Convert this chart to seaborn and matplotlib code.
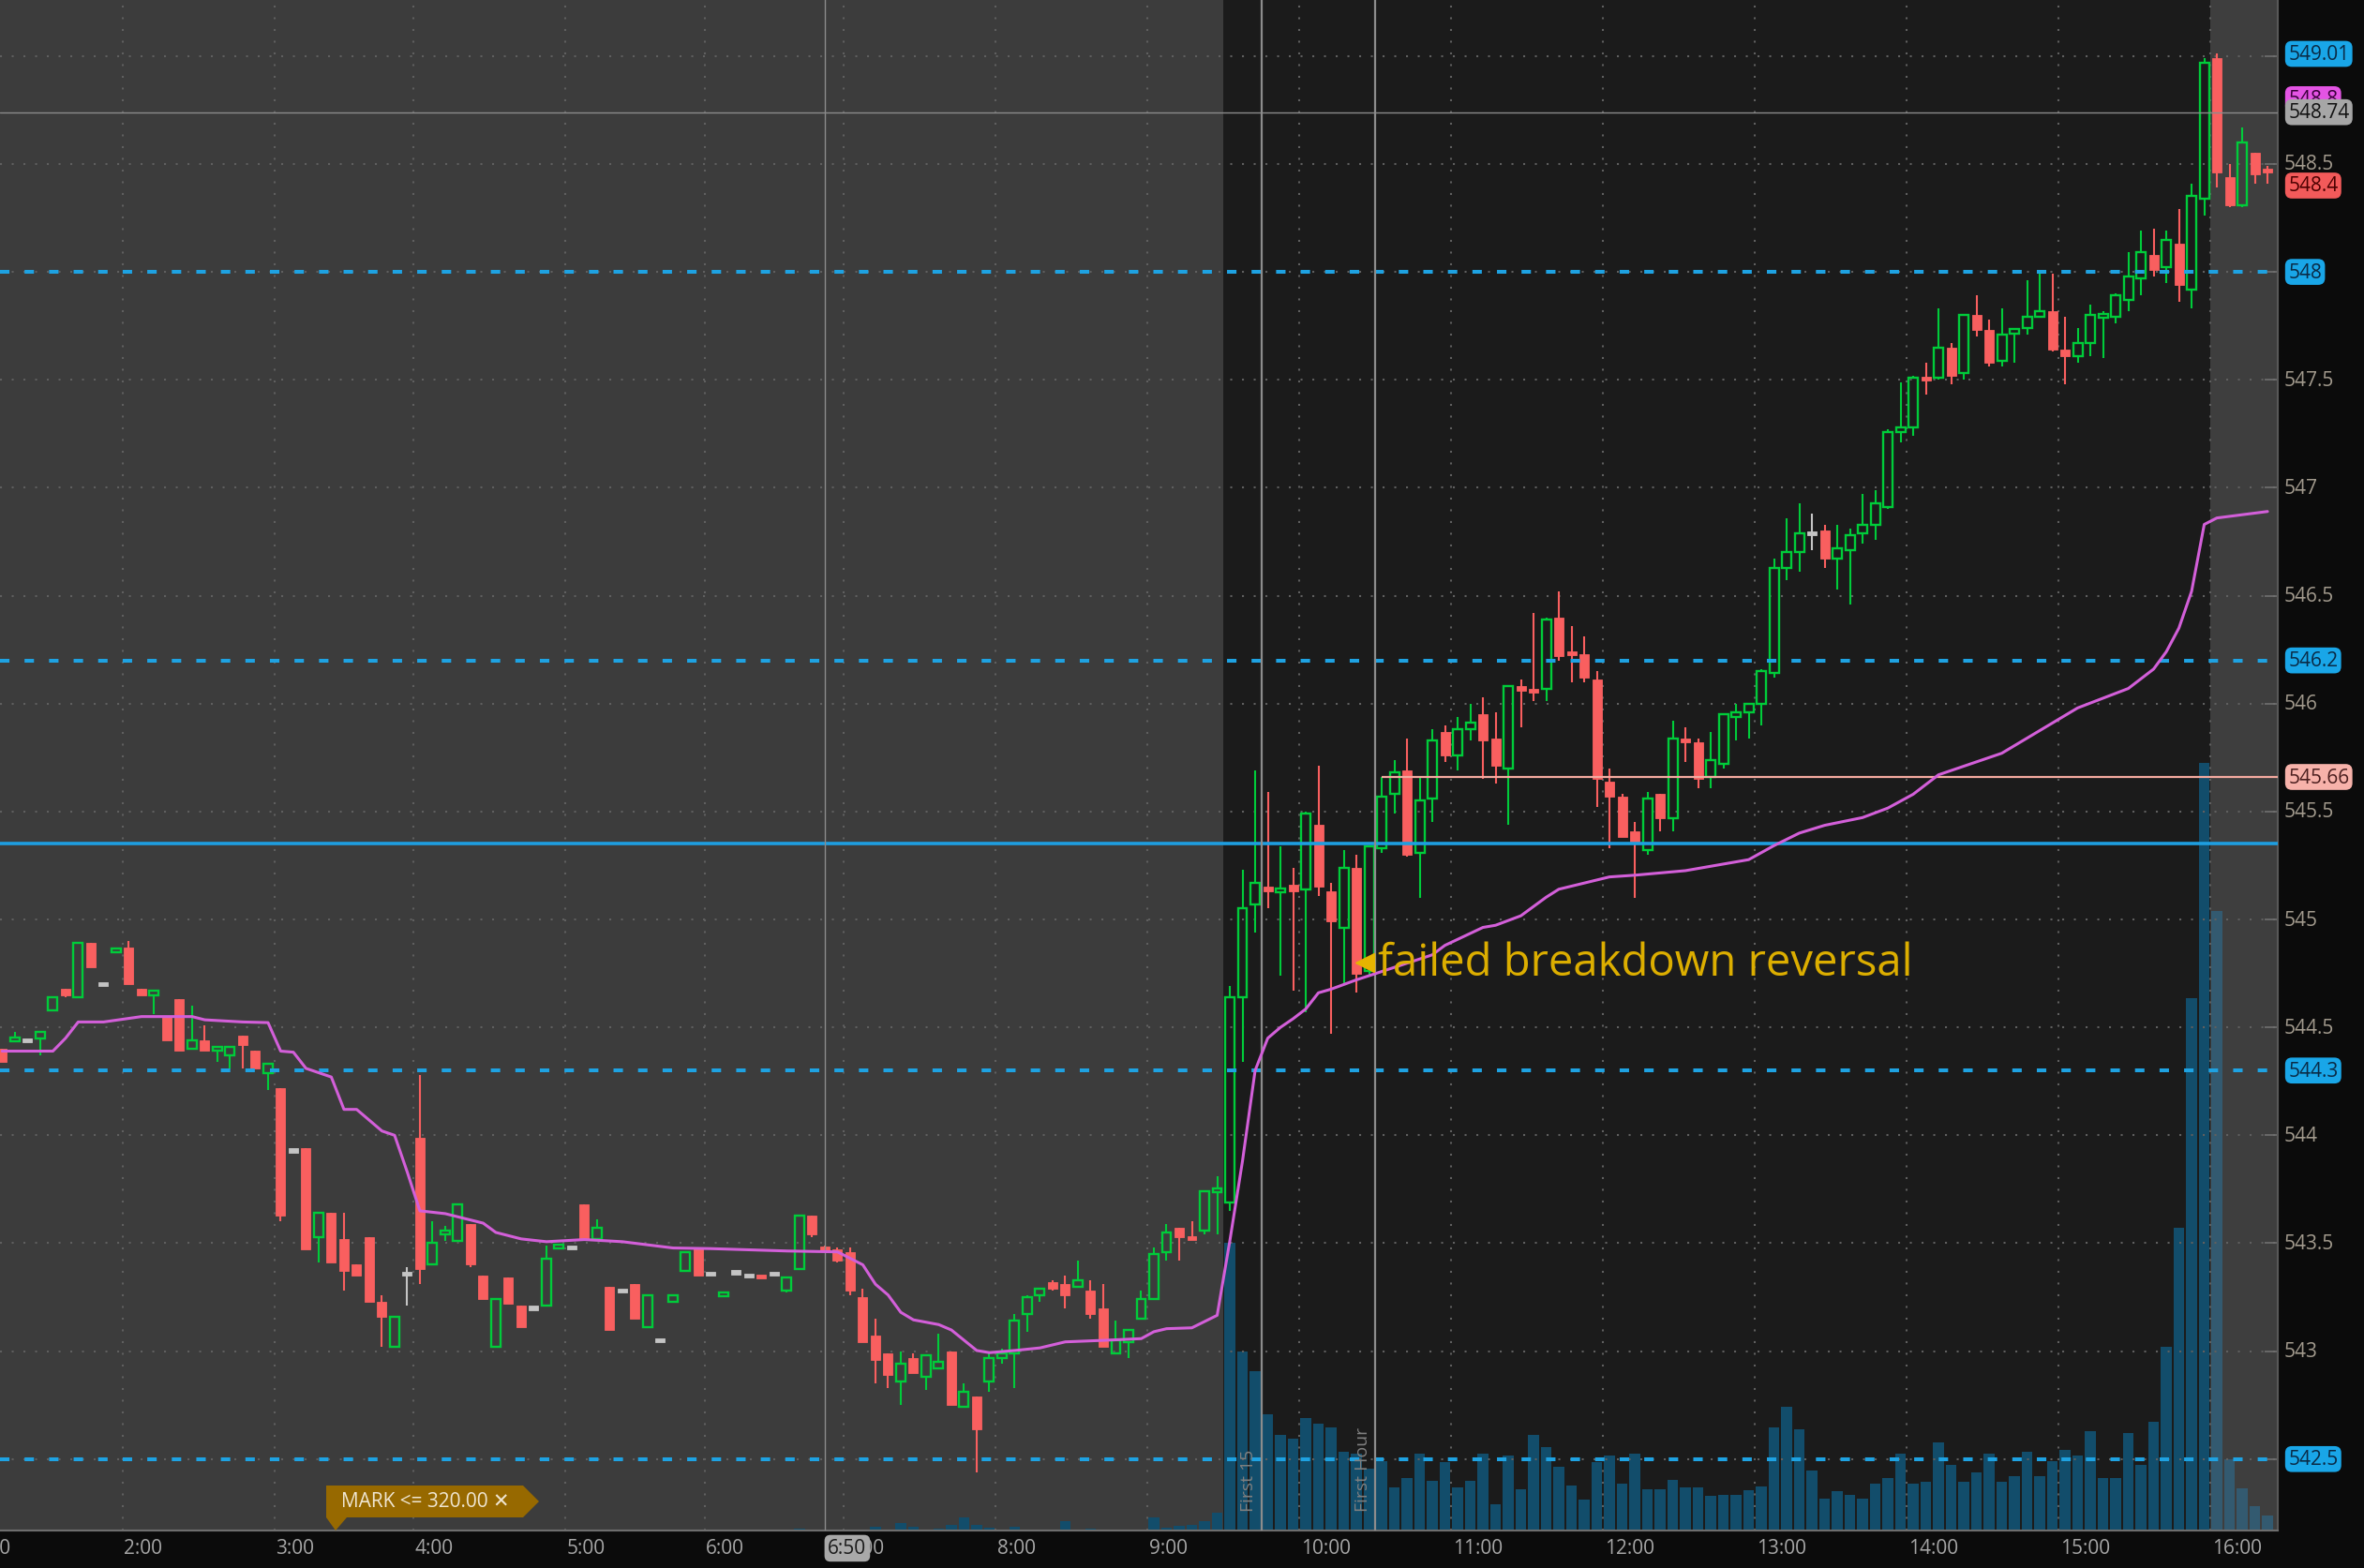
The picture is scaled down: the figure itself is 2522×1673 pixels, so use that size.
import numpy as np
import pandas as pd
import matplotlib
matplotlib.use("Agg")
import matplotlib.pyplot as plt
import matplotlib.transforms as mtrans
from matplotlib.patches import Rectangle, Polygon
import seaborn as sns

# ---------------- data: 5 minute bars ----------------
times = [
    "1:10", "1:15", "1:20", "1:25", "1:30", "1:35", "1:40", "1:45", "1:50", "1:55",
    "2:00", "2:05", "2:10", "2:15", "2:20", "2:25", "2:30", "2:35", "2:40", "2:45", "2:50", "2:55",
    "3:00", "3:05", "3:10", "3:15", "3:20", "3:25", "3:30", "3:35", "3:40", "3:45", "3:55",
    "4:00", "4:05", "4:10", "4:15", "4:20", "4:25", "4:30", "4:35", "4:40", "4:45", "4:50", "4:55",
    "5:00", "5:05", "5:10", "5:15", "5:20", "5:25", "5:30", "5:40", "5:45", "5:50", "5:55",
    "6:00", "6:05", "6:10", "6:15", "6:25", "6:30", "6:35", "6:40", "6:45", "6:50", "6:55",
    "7:00", "7:05", "7:10", "7:15", "7:20", "7:25", "7:30", "7:35", "7:40", "7:45", "7:50", "7:55",
    "8:00", "8:05", "8:10", "8:15", "8:20", "8:25", "8:30", "8:35", "8:40", "8:45", "8:50", "8:55",
    "9:00", "9:05", "9:10", "9:15", "9:20", "9:25", "9:30", "9:35", "9:40", "9:45", "9:50", "9:55",
    "10:00", "10:05", "10:10", "10:15", "10:20", "10:25", "10:30", "10:35", "10:40", "10:45", "10:50", "10:55",
    "11:00", "11:05", "11:10", "11:15", "11:20", "11:25", "11:30", "11:35", "11:40", "11:45", "11:50", "11:55",
    "12:00", "12:05", "12:10", "12:15", "12:20", "12:25", "12:30", "12:35", "12:40", "12:45", "12:50", "12:55",
    "13:00", "13:05", "13:10", "13:15", "13:20", "13:25", "13:30", "13:35", "13:40", "13:45", "13:50", "13:55",
    "14:00", "14:05", "14:10", "14:15", "14:20", "14:25", "14:30", "14:35", "14:40", "14:45", "14:50", "14:55",
    "15:00", "15:05", "15:10", "15:15", "15:20", "15:25", "15:30", "15:35", "15:40", "15:45", "15:50", "15:55",
    "16:00", "16:05", "16:10", "16:15", "16:20",
]
opens = [
    544.40, 544.44, 544.44, 544.45, 544.58, 544.68, 544.64, 544.89, 544.70, 544.85,
    544.87, 544.68, 544.65, 544.55, 544.63, 544.40, 544.44, 544.39, 544.37, 544.46,
    544.39, 544.29, 544.22, 543.93, 543.94, 543.53, 543.64, 543.52, 543.40, 543.53,
    543.23, 543.02, 543.36, 543.99, 543.40, 543.54, 543.51, 543.59, 543.35, 543.02,
    543.34, 543.21, 543.20, 543.21, 543.48, 543.48, 543.68, 543.52, 543.30, 543.28,
    543.31, 543.11, 543.05, 543.23, 543.37, 543.48, 543.36, 543.255, 543.365, 543.35,
    543.35, 543.36, 543.28, 543.38, 543.63, 543.48, 543.47, 543.46, 543.25, 543.07,
    542.99, 542.86, 542.97, 542.88, 542.92, 543.00, 542.74, 542.79, 542.86, 542.97,
    542.99, 543.17, 543.26, 543.32, 543.31, 543.30, 543.28, 543.20, 542.99, 543.04,
    543.15, 543.24, 543.46, 543.57, 543.53, 543.56, 543.74, 543.69, 544.64, 545.07,
    545.15, 545.13, 545.16, 545.14, 545.44, 545.13, 544.96, 545.24, 544.76, 545.33,
    545.58, 545.69, 545.31, 545.56, 545.87, 545.76, 545.88, 545.95, 545.84, 545.70,
    546.08, 546.07, 546.07, 546.40, 546.24, 546.23, 546.11, 545.64, 545.57, 545.41,
    545.32, 545.58, 545.47, 545.84, 545.82, 545.66, 545.72, 545.94, 545.96, 546.00,
    546.14, 546.63, 546.70, 546.79, 546.80, 546.67, 546.71, 546.79, 546.83, 546.91,
    547.26, 547.28, 547.51, 547.51, 547.65, 547.53, 547.80, 547.73, 547.59, 547.72,
    547.74, 547.79, 547.82, 547.64, 547.61, 547.67, 547.79, 547.79, 547.87, 547.97,
    548.08, 548.02, 548.13, 547.92, 548.34, 548.99, 548.44, 548.31, 548.55, 548.475,
]
highs = [
    544.40, 544.48, 544.44, 544.48, 544.64, 544.68, 544.89, 544.89, 544.70, 544.86,
    544.90, 544.68, 544.67, 544.55, 544.63, 544.60, 544.51, 544.41, 544.41, 544.46,
    544.39, 544.33, 544.22, 543.93, 543.94, 543.64, 543.64, 543.64, 543.40, 543.53,
    543.26, 543.16, 543.39, 544.28, 543.60, 543.58, 543.68, 543.59, 543.35, 543.24,
    543.34, 543.21, 543.20, 543.49, 543.49, 543.48, 543.68, 543.61, 543.30, 543.28,
    543.31, 543.26, 543.05, 543.26, 543.46, 543.48, 543.36, 543.27, 543.365, 543.35,
    543.35, 543.36, 543.34, 543.63, 543.63, 543.49, 543.48, 543.48, 543.29, 543.15,
    542.99, 543.00, 542.99, 542.98, 543.08, 543.00, 542.85, 542.79, 543.00, 543.01,
    543.17, 543.26, 543.29, 543.33, 543.35, 543.42, 543.33, 543.31, 543.14, 543.10,
    543.28, 543.48, 543.59, 543.57, 543.60, 543.74, 543.81, 544.69, 545.23, 545.69,
    545.59, 545.34, 545.24, 545.50, 545.71, 545.17, 545.32, 545.30, 545.34, 545.66,
    545.74, 545.84, 545.66, 545.88, 545.90, 545.94, 546.00, 546.03, 545.96, 546.08,
    546.11, 546.42, 546.40, 546.52, 546.36, 546.31, 546.15, 545.70, 545.58, 545.45,
    545.59, 545.58, 545.92, 545.89, 545.84, 545.87, 545.95, 546.00, 546.00, 546.16,
    546.67, 546.86, 546.93, 546.88, 546.83, 546.83, 546.81, 546.97, 546.99, 547.27,
    547.49, 547.52, 547.58, 547.83, 547.67, 547.80, 547.89, 547.78, 547.83, 547.74,
    547.96, 547.99, 547.99, 547.79, 547.74, 547.85, 547.82, 547.90, 548.09, 548.19,
    548.20, 548.19, 548.29, 548.41, 548.99, 549.01, 548.50, 548.67, 548.55, 548.49,
]
lows = [
    544.34, 544.44, 544.44, 544.37, 544.58, 544.64, 544.64, 544.78, 544.70, 544.85,
    544.70, 544.65, 544.56, 544.44, 544.39, 544.40, 544.39, 544.34, 544.31, 544.31,
    544.31, 544.21, 543.60, 543.93, 543.47, 543.41, 543.41, 543.28, 543.35, 543.23,
    543.02, 543.02, 543.21, 543.31, 543.40, 543.51, 543.51, 543.39, 543.24, 543.02,
    543.22, 543.11, 543.20, 543.21, 543.48, 543.48, 543.52, 543.52, 543.10, 543.28,
    543.15, 543.11, 543.05, 543.23, 543.37, 543.35, 543.36, 543.255, 543.365, 543.35,
    543.34, 543.36, 543.27, 543.38, 543.53, 543.47, 543.41, 543.26, 543.04, 542.85,
    542.83, 542.75, 542.90, 542.82, 542.92, 542.75, 542.74, 542.44, 542.81, 542.94,
    542.83, 543.09, 543.23, 543.28, 543.20, 543.30, 543.15, 543.02, 542.99, 542.97,
    543.15, 543.24, 543.42, 543.42, 543.52, 543.54, 543.54, 543.65, 544.34, 544.94,
    545.05, 544.74, 544.67, 544.57, 545.11, 544.47, 544.70, 544.66, 544.74, 545.31,
    545.49, 545.29, 545.10, 545.45, 545.73, 545.69, 545.83, 545.65, 545.63, 545.44,
    545.89, 546.01, 546.01, 546.20, 546.10, 546.10, 545.52, 545.33, 545.38, 545.10,
    545.30, 545.41, 545.41, 545.73, 545.61, 545.61, 545.70, 545.83, 545.84, 545.90,
    546.12, 546.57, 546.61, 546.71, 546.63, 546.53, 546.46, 546.74, 546.76, 546.90,
    547.21, 547.24, 547.43, 547.50, 547.48, 547.50, 547.70, 547.56, 547.56, 547.58,
    547.71, 547.79, 547.63, 547.48, 547.58, 547.61, 547.60, 547.76, 547.82, 547.89,
    547.98, 547.95, 547.86, 547.83, 548.26, 548.39, 548.30, 548.30, 548.41, 548.41,
]
closes = [
    544.34, 544.45, 544.44, 544.48, 544.64, 544.65, 544.89, 544.78, 544.70, 544.86,
    544.70, 544.65, 544.67, 544.44, 544.39, 544.44, 544.39, 544.41, 544.41, 544.42,
    544.31, 544.33, 543.63, 543.93, 543.47, 543.64, 543.41, 543.37, 543.35, 543.23,
    543.16, 543.16, 543.36, 543.38, 543.50, 543.56, 543.68, 543.40, 543.24, 543.24,
    543.22, 543.11, 543.20, 543.43, 543.49, 543.48, 543.52, 543.57, 543.10, 543.28,
    543.15, 543.26, 543.05, 543.26, 543.46, 543.35, 543.36, 543.27, 543.365, 543.35,
    543.34, 543.36, 543.34, 543.63, 543.54, 543.47, 543.42, 543.28, 543.04, 542.96,
    542.89, 542.94, 542.90, 542.98, 542.95, 542.75, 542.81, 542.64, 542.97, 542.99,
    543.14, 543.25, 543.29, 543.29, 543.26, 543.33, 543.17, 543.02, 543.05, 543.10,
    543.24, 543.45, 543.55, 543.53, 543.52, 543.74, 543.75, 544.64, 545.05, 545.17,
    545.13, 545.14, 545.13, 545.49, 545.15, 544.99, 545.24, 544.75, 545.34, 545.57,
    545.68, 545.30, 545.55, 545.83, 545.76, 545.88, 545.91, 545.83, 545.71, 546.08,
    546.06, 546.05, 546.39, 546.22, 546.23, 546.12, 545.65, 545.57, 545.38, 545.36,
    545.56, 545.47, 545.84, 545.82, 545.65, 545.74, 545.95, 545.96, 546.00, 546.15,
    546.63, 546.70, 546.79, 546.79, 546.67, 546.72, 546.78, 546.83, 546.93, 547.26,
    547.28, 547.51, 547.50, 547.65, 547.52, 547.80, 547.73, 547.58, 547.71, 547.73,
    547.79, 547.82, 547.64, 547.61, 547.67, 547.80, 547.80, 547.89, 547.98, 548.09,
    548.01, 548.15, 547.94, 548.35, 548.97, 548.46, 548.31, 548.60, 548.45, 548.465,
]
# volume in thousands of shares
volumes = [
    0, 0, 0, 0, 0, 0, 0, 0, 0, 0,
    0, 0, 0, 0, 0, 0, 0, 0, 0, 0,
    0, 0, 0, 0, 0, 0, 0, 0, 0, 0,
    0, 0, 0, 0, 0, 0, 0, 0, 0, 0,
    0, 0, 0, 0, 0, 0, 0, 0, 0, 0,
    0, 0, 0, 0, 0, 0, 0, 0, 0, 0,
    0, 0, 0, 12, 0, 0, 0, 0, 0, 20,
    0, 40, 20, 0, 12, 28, 68, 28, 16, 0,
    20, 0, 0, 0, 48, 0, 12, 0, 0, 0,
    0, 68, 16, 24, 32, 48, 96, 1528, 950, 846,
    618, 507, 489, 598, 568, 548, 419, 410, 328, 370,
    228, 278, 407, 262, 361, 228, 262, 407, 141, 399,
    220, 507, 441, 339, 240, 162, 361, 399, 250, 410,
    220, 220, 270, 228, 228, 182, 190, 190, 212, 232,
    548, 656, 538, 319, 170, 210, 190, 170, 250, 280,
    409, 250, 260, 469, 350, 260, 308, 409, 260, 290,
    419, 290, 370, 430, 399, 529, 280, 280, 518, 350,
    578, 976, 1608, 2824, 4072, 3288, 376, 224, 128, 80,
]

vwap_times = [
    "1:10", "1:30", "1:35", "1:40", "1:50", "2:05", "2:25", "2:30", "2:45", "2:55",
    "3:00", "3:05", "3:10", "3:20", "3:25", "3:30", "3:40", "3:45", "3:55",
    "4:00", "4:10", "4:25", "4:30", "4:40", "4:50", "5:05", "5:20", "5:45",
    "6:00", "6:35", "6:55", "7:05", "7:10", "7:15", "7:20", "7:25", "7:35", "7:40", "7:50", "7:55",
    "8:05", "8:15", "8:25", "8:40", "8:55", "9:00", "9:05", "9:15", "9:25",
    "9:30", "9:35", "9:40", "9:45", "9:50", "9:55", "10:00", "10:05", "10:10", "10:20", "10:35",
    "10:50", "10:55", "11:10", "11:15", "11:25", "11:35", "11:40", "12:00", "12:10", "12:30",
    "12:55", "13:05", "13:15", "13:25", "13:40", "13:50", "14:00", "14:10", "14:35",
    "15:05", "15:25", "15:35", "15:40", "15:45", "15:50", "15:55", "16:00", "16:20",
]
vwap_vals = [
    544.39, 544.39, 544.45, 544.525, 544.525, 544.55, 544.55, 544.535, 544.525, 544.522,
    544.39, 544.385, 544.31, 544.27, 544.12, 544.12, 544.02, 544.00, 543.83,
    543.65, 543.637, 543.593, 543.55, 543.52, 543.507, 543.517, 543.507, 543.478,
    543.475, 543.464, 543.46, 543.40, 543.31, 543.26, 543.18, 543.145, 543.123, 543.098, 543.003, 542.993,
    543.003, 543.015, 543.043, 543.05, 543.058, 543.09, 543.104, 543.108, 543.166,
    543.51, 543.88, 544.30, 544.45, 544.50, 544.54, 544.585, 544.66, 544.677, 544.72, 544.778,
    544.836, 544.88, 544.963, 544.973, 545.017, 545.103, 545.14, 545.197, 545.205, 545.226,
    545.277, 545.342, 545.40, 545.436, 545.472, 545.516, 545.58, 545.67, 545.77,
    545.98, 546.07, 546.16, 546.24, 546.35, 546.52, 546.83, 546.86, 546.89,
]

blue_dashed_levels = [548.0, 546.2, 544.3, 542.5]
blue_solid_level = 545.35
salmon_level = 545.66
salmon_from = "10:30"
cursor_price = 548.74
cursor_time = "6:50"
grid_prices = [542.5, 543, 543.5, 544, 544.5, 545, 545.5, 546, 546.5, 547, 547.5, 548, 548.5, 549]
price_labels = [548.5, 547.5, 547, 546.5, 546, 545.5, 545, 544.5, 544, 543.5, 543]
hour_labels = ["1:00", "2:00", "3:00", "4:00", "5:00", "6:00", "7:00", "8:00", "9:00",
               "10:00", "11:00", "12:00", "13:00", "14:00", "15:00", "16:00"]
badges = [  # text, price, face, text colour
    ("549.01", 549.01, "#19a6e8", "#0a2a45"),
    ("548.8", 548.8, "#e454e4", "#3a003a"),
    ("548.74", 548.74, "#a6a6a6", "#111111"),
    ("548.4", 548.4, "#f25a5a", "#4a0000"),
    ("548", 548.0, "#19a6e8", "#0a2a45"),
    ("546.2", 546.2, "#19a6e8", "#0a2a45"),
    ("545.66", 545.66, "#f7b2aa", "#4a1e1e"),
    ("544.3", 544.3, "#19a6e8", "#0a2a45"),
    ("542.5", 542.5, "#19a6e8", "#0a2a45"),
]
note_text = "failed breakdown reversal"
note_time, note_price = "10:25", 544.80

# ---------------- style ----------------
sns.set_style("dark")
plt.rcParams["font.family"] = ["Open Sans", "DejaVu Sans"]

GREEN = "#00cc3a"
RED = "#f95f5f"
GRAY = "#c4c4c4"
PRE_BG = "#3c3c3c"
RTH_BG = "#1b1b1b"
PANEL = "#0b0b0b"

W, H = 2522, 1674
PW, PH = 2430, 1634
fig = plt.figure(figsize=(W / 100, H / 100), dpi=100)
fig.patch.set_facecolor(PANEL)

ax = fig.add_axes([0, 1 - PH / H, PW / W, PH / H])
axv = ax.twinx()
ax.set_zorder(2)
axv.set_zorder(1)
ax.patch.set_visible(False)
axv.patch.set_visible(True)

n = len(times)
pos = {t: i for i, t in enumerate(times)}
x = np.arange(n)

# session backgrounds + volume
rth_start = pos["9:30"] - 0.5
post_start = pos["16:00"] - 0.5
axv.set_facecolor(PRE_BG)
axv.axvspan(rth_start, post_start, color=RTH_BG, lw=0)
axv.axvspan(post_start, n + 5, color="#3e3e3e", lw=0)
vol_colors = ["#335a70" if i >= pos["16:00"] else "#124d6b" for i in range(n)]
axv.bar(x, volumes, width=0.86, color=vol_colors, lw=0)
axv.set_yticks([])
for s in axv.spines.values():
    s.set_visible(False)

# grid / ticks
hour_pos = [pos["2:00"] - 12.5] + [pos[h] - 0.5 for h in hour_labels[1:]]
ax.set_xticks(hour_pos)
ax.set_yticks(grid_prices)
ax.grid(True, color="#5f5f5f", linestyle=(0, (1, 5)), linewidth=1.5)
ax.yaxis.set_ticks_position("right")
ax.tick_params(axis="y", direction="in", length=10, width=1.2, color="#707070",
               labelright=False, labelleft=False)
ax.tick_params(axis="x", direction="in", length=8, width=1.2, color="#707070",
               labelbottom=False)
for side in ["top", "left"]:
    ax.spines[side].set_visible(False)
ax.spines["right"].set_color("#585858")
ax.spines["right"].set_linewidth(1.5)
ax.spines["bottom"].set_color("#6e6e6e")
ax.spines["bottom"].set_linewidth(1.5)

# candles
bw = 0.74
min_h = 0.018
for i in range(n):
    o, h, l, c = opens[i], highs[i], lows[i], closes[i]
    top, bot = max(o, c), min(o, c)
    if top - bot < min_h:
        mid = (top + bot) / 2
        top, bot = mid + min_h / 2, mid - min_h / 2
    if c > o:
        ax.vlines(i, top, max(h, top), color=GREEN, lw=1.5, zorder=3)
        ax.vlines(i, min(l, bot), bot, color=GREEN, lw=1.5, zorder=3)
        ax.add_patch(Rectangle((i - bw / 2, bot), bw, top - bot, fc="none",
                               ec=GREEN, lw=1.7, zorder=3))
    else:
        col = RED if c < o else GRAY
        ax.vlines(i, l, h, color=col, lw=1.5, zorder=3)
        ax.add_patch(Rectangle((i - bw / 2, bot), bw, top - bot, fc=col,
                               ec=col, lw=0.6, zorder=3))

# level lines
for lv in blue_dashed_levels:
    ax.axhline(lv, color="#1ea2e2", lw=2.9, ls=(0, (2.5, 4)), zorder=4)
ax.axhline(blue_solid_level, color="#1e9ee0", lw=2.6, zorder=4)
ax.hlines(salmon_level, pos[salmon_from], 181, color="#f4aaa0", lw=1.6, zorder=4)
ax.axhline(cursor_price, color="#8c8c8c", lw=1.0, zorder=4)
ax.axvline(pos[cursor_time], color="#8a8a8a", lw=1.0, zorder=4)
ax.axvline(pos["9:45"] - 0.5, color="#8c8c8c", lw=1.6, zorder=4)
ax.axvline(pos["10:30"] - 0.5, color="#8c8c8c", lw=1.6, zorder=4)

# VWAP
vwap_df = pd.DataFrame({"x": [pos[t] for t in vwap_times], "vwap": vwap_vals})
sns.lineplot(data=vwap_df, x="x", y="vwap", ax=ax, color="#d35fd9", linewidth=2.2,
             zorder=5)
ax.set_xlabel("")
ax.set_ylabel("")

# annotation
ax.plot(pos[note_time] - 0.3, note_price, marker="<", ms=15, color="#e6b400",
        mec="#e6b400", zorder=6)
ax.text(pos[note_time] + 0.7, note_price, note_text, color="#dcae00", fontsize=34,
        va="center", ha="left", zorder=6)
ax.text(pos["9:45"] - 1.55, 542.26, "First 15", rotation=90, color="#808080",
        fontsize=14, ha="center", va="bottom", zorder=6)
ax.text(pos["10:30"] - 1.5, 542.26, "First Hour", rotation=90, color="#808080",
        fontsize=14, ha="center", va="bottom", zorder=6)

# right price axis
ytr = mtrans.blended_transform_factory(ax.transAxes, ax.transData)
for p in price_labels:
    ax.text(1.0029, p, f"{p:g}", transform=ytr, color="#a39b8e", fontsize=15,
            va="center", ha="left", clip_on=False, zorder=7)
for txt, p, fc, tc in badges:
    ax.text(1.0046, p, txt, transform=ytr, color=tc, fontsize=15, va="center",
            ha="left", clip_on=False, zorder=8,
            bbox=dict(boxstyle="round,pad=0.16,rounding_size=0.35", fc=fc, ec="none"))

# bottom time axis
xtr = mtrans.blended_transform_factory(ax.transData, ax.transAxes)
for hp, lab in zip(hour_pos, hour_labels):
    ax.text(hp + 0.1, -0.0116, lab, transform=xtr, color="#a6a6a6", fontsize=15,
            va="center", ha="left", clip_on=False, zorder=7)
ax.text(pos[cursor_time] + 0.25, -0.0116, cursor_time, transform=xtr, color="#1a1a1a",
        fontsize=15, va="center", ha="left", clip_on=False, zorder=9,
        bbox=dict(boxstyle="round,pad=0.18,rounding_size=0.3", fc="#a9a9a9", ec="none"))

# alert marker tag
def fpx(px, py):
    return (px / W, 1 - py / H)

tag = [fpx(348, 1586), fpx(558, 1586), fpx(575, 1603), fpx(558, 1620),
       fpx(370, 1620), fpx(358, 1634), fpx(348, 1620)]
fig.add_artist(Polygon(tag, closed=True, transform=fig.transFigure, fc="#976900",
                       ec="none", zorder=10))
fig.text(364 / W, 1 - 1603 / H, "MARK <= 320.00 \u2715", color="#f0e6d2",
         fontsize=15, va="center", ha="left", zorder=11)

# limits last, after every artist has been added
ax.set_xlim(-0.18, 179.81)
ax.set_ylim(542.169, 549.264)
axv.set_ylim(0, 1016 * 8)

fig.savefig("out.png", dpi=100, facecolor=fig.get_facecolor())
